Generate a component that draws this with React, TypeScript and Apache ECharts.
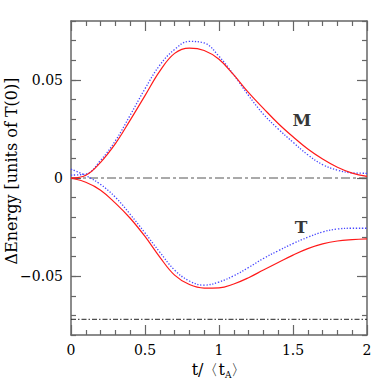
import React, { useEffect, useRef } from "react";
import * as echarts from "echarts";

const tValues = [0, 0.1, 0.2, 0.3, 0.4, 0.5, 0.6, 0.7, 0.8, 0.9, 1.0, 1.1, 1.2, 1.3, 1.4, 1.5, 1.6, 1.7, 1.8, 1.9, 2.0];
const mRed = [0, 0.0014, 0.008, 0.0175, 0.0295, 0.042, 0.0545, 0.0635, 0.0662, 0.065, 0.0605, 0.0525, 0.0435, 0.0355, 0.0278, 0.021, 0.0148, 0.0097, 0.0055, 0.0025, 0.0008];
const mBlue = [0.0015, 0.002, 0.009, 0.019, 0.032, 0.0455, 0.0575, 0.0655, 0.0696, 0.0688, 0.062, 0.0525, 0.042, 0.0325, 0.025, 0.0182, 0.0118, 0.0068, 0.004, 0.0026, 0.0024];
const tRed = [0, -0.0022, -0.0062, -0.0128, -0.0205, -0.0298, -0.0403, -0.0495, -0.0543, -0.0561, -0.056, -0.054, -0.0508, -0.0469, -0.0431, -0.0393, -0.036, -0.0336, -0.0321, -0.0314, -0.031];
const tBlue = [0.0045, 0.0012, -0.0033, -0.0098, -0.0185, -0.028, -0.0378, -0.0469, -0.0525, -0.0546, -0.053, -0.0498, -0.0456, -0.041, -0.0371, -0.0334, -0.0302, -0.0275, -0.026, -0.0256, -0.0256];
const refLevels = [0, -0.072];
const yMajorTicks = [-0.05, 0, 0.05];
const annotations = [
  { name: "M", t: 1.56, v: 0.0296 },
  { name: "T", t: 1.555, v: -0.025 },
];

const FONT = "DejaVu Serif";
const AXIS_COLOR = "#666";

function pairs(ys: number[]) {
  return tValues.map((t, i) => [t, ys[i]]);
}

export default function App() {
  const ref = useRef<HTMLDivElement>(null);
  useEffect(() => {
    document.body.style.margin = "0";
    const chart = echarts.init(ref.current!, null, { renderer: "svg" });
    const axisLine = { show: true, onZero: false, lineStyle: { color: AXIS_COLOR, width: 1.5 } };
    const tickStyle = { color: AXIS_COLOR, width: 1.2 };
    const xBase = {
      type: "value",
      min: 0,
      max: 2,
      interval: 0.5,
      axisLine,
      axisTick: { show: true, inside: true, length: 10, lineStyle: tickStyle },
      minorTick: { show: true, splitNumber: 5, length: 5, lineStyle: tickStyle },
      splitLine: { show: false },
      minorSplitLine: { show: false },
    };
    const yMinor = {
      type: "value",
      min: -0.08,
      max: 0.08,
      interval: 0.01,
      axisLine,
      axisTick: { show: true, inside: true, length: 5, lineStyle: tickStyle },
      axisLabel: { show: false },
      splitLine: { show: false },
    };
    const yMajor = {
      type: "value",
      min: -0.08,
      max: 0.08,
      axisLine: { show: false, onZero: false },
      axisTick: { show: true, inside: true, length: 10, lineStyle: tickStyle, customValues: yMajorTicks },
      splitLine: { show: false },
    };
    const dotted = { color: "#4646ff", width: 1.3, type: [1.3, 1.7] };
    const solid = { color: "#ff1a1a", width: 1.2 };
    const option: any = {
      animation: false,
      backgroundColor: "#fff",
      grid: { left: 71, right: 21, top: 21, bottom: 53, containLabel: false, outerBoundsMode: "none" },
      xAxis: [
        {
          ...xBase,
          position: "bottom",
          axisLabel: { show: true, margin: 8, color: "#000", fontFamily: FONT, fontSize: 14 },
          name: "{t|t/}{b|〈}{t|t}{s|A}{b|〉}",
          nameLocation: "middle",
          nameGap: 24,
          nameTextStyle: {
            rich: {
              t: { fontFamily: FONT, fontSize: 16, color: "#000", lineHeight: 20 },
              b: { fontFamily: "DejaVu Sans", fontSize: 15, color: "#000", lineHeight: 20 },
              s: { fontFamily: FONT, fontSize: 9, color: "#000", lineHeight: 20, verticalAlign: "bottom", padding: [8, 0, 0, 0] },
            },
          },
        },
        { ...xBase, position: "top", axisLabel: { show: false } },
      ],
      yAxis: [
        {
          ...yMinor,
          position: "left",
          name: "ΔEnergy [units of T(0)]",
          nameLocation: "middle",
          nameRotate: 90,
          nameGap: 52,
          nameTextStyle: { fontFamily: FONT, fontSize: 16, color: "#000", padding: [0, 0, 0, 14] },
        },
        {
          ...yMajor,
          position: "left",
          axisLabel: {
            show: true,
            margin: 8,
            color: "#000",
            fontFamily: FONT,
            fontSize: 14,
            customValues: yMajorTicks,
            formatter: (v: number) => String(Math.round(v * 100) / 100).replace("-", "−"),
          },
        },
        { ...yMinor, position: "right" },
        { ...yMajor, position: "right", axisLabel: { show: false } },
      ],
      series: [
        {
          type: "line",
          data: [[0, refLevels[0]], [2, refLevels[0]]],
          symbol: "none",
          lineStyle: { color: "#555", width: 1, type: [9, 3, 3, 3] },
          z: 1,
        },
        {
          type: "line",
          data: [[0, refLevels[1]], [2, refLevels[1]]],
          symbol: "none",
          lineStyle: { color: "#222", width: 1, type: [5, 2, 1.5, 2] },
          z: 1,
        },
        { type: "line", data: pairs(mBlue), symbol: "none", smooth: 0.4, lineStyle: dotted },
        { type: "line", data: pairs(tBlue), symbol: "none", smooth: 0.4, lineStyle: dotted },
        { type: "line", data: pairs(mRed), symbol: "none", smooth: 0.4, lineStyle: solid },
        { type: "line", data: pairs(tRed), symbol: "none", smooth: 0.4, lineStyle: solid },
        {
          type: "scatter",
          symbolSize: 0,
          data: annotations.map((a) => ({ name: a.name, value: [a.t, a.v] })),
          label: {
            show: true,
            position: "inside",
            formatter: "{b}",
            fontFamily: FONT,
            fontSize: 17,
            fontWeight: "bold",
            color: "#000",
          },
          silent: true,
        },
      ],
    };
    chart.setOption(option);
    return () => chart.dispose();
  }, []);
  return <div ref={ref} style={{ width: 388, height: 388 }} />;
}
